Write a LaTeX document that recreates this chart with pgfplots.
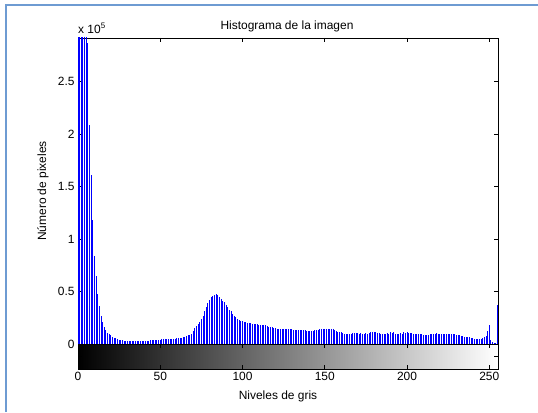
\documentclass[border=0pt]{standalone}
\usepackage{pgfplots}
\pgfplotsset{compat=1.18}
\usepackage{pgfplotstable}
\usepackage{fontspec}
\setmainfont{Liberation Sans}
\definecolor{framec}{RGB}{110,155,210}

\pgfplotstableread{
x y
0 3.2
1 3.4
2 3.3
3 3.2
4 3.1
5 3.0
6 2.87
7 2.09
8 1.61
9 1.18
10 0.84
11 0.65
12 0.48
13 0.36
14 0.27
15 0.21
16 0.165
17 0.13
18 0.108
19 0.095
20 0.085
21 0.07
22 0.06
23 0.054
24 0.046
25 0.042
26 0.039
27 0.034
28 0.032
29 0.029
30 0.026
31 0.025
32 0.024
33 0.025
34 0.024
35 0.025
36 0.024
37 0.025
38 0.026
39 0.025
40 0.026
41 0.027
42 0.028
43 0.030
44 0.034
45 0.035
46 0.036
47 0.035
48 0.036
49 0.037
50 0.038
51 0.046
52 0.048
53 0.049
54 0.050
55 0.050
56 0.051
57 0.051
58 0.052
59 0.052
60 0.053
61 0.054
62 0.055
63 0.058
64 0.064
65 0.068
66 0.072
67 0.082
68 0.088
69 0.098
70 0.12
71 0.15
72 0.17
73 0.19
74 0.21
75 0.235
76 0.27
77 0.31
78 0.355
79 0.39
80 0.42
81 0.45
82 0.46
83 0.467
84 0.473
85 0.465
86 0.45
87 0.425
88 0.41
89 0.40
90 0.37
91 0.355
92 0.32
93 0.31
94 0.285
95 0.27
96 0.255
97 0.24
98 0.23
99 0.22
100 0.215
101 0.21
102 0.205
103 0.2
104 0.2
105 0.197
106 0.195
107 0.19
108 0.19
109 0.188
110 0.18
111 0.178
112 0.178
113 0.177
114 0.178
115 0.176
116 0.165
117 0.16
118 0.158
119 0.157
120 0.148
121 0.147
122 0.146
123 0.146
124 0.145
125 0.146
126 0.147
127 0.146
128 0.145
129 0.146
130 0.145
131 0.132
132 0.131
133 0.13
134 0.13
135 0.129
136 0.13
137 0.131
138 0.13
139 0.128
140 0.124
141 0.123
142 0.124
143 0.125
144 0.13
145 0.131
146 0.133
147 0.14
148 0.141
149 0.142
150 0.141
151 0.142
152 0.142
153 0.141
154 0.142
155 0.14
156 0.138
157 0.124
158 0.116
159 0.114
160 0.112
161 0.102
162 0.1
163 0.099
164 0.1
165 0.098
166 0.1
167 0.107
168 0.106
169 0.107
170 0.105
171 0.1
172 0.101
173 0.099
174 0.1
175 0.102
176 0.1
177 0.101
178 0.114
179 0.11
180 0.117
181 0.11
182 0.105
183 0.101
184 0.1
185 0.1
186 0.099
187 0.1
188 0.101
189 0.1
190 0.11
191 0.109
192 0.11
193 0.1
194 0.099
195 0.1
196 0.101
197 0.1
198 0.11
199 0.108
200 0.11
201 0.109
202 0.108
203 0.107
204 0.1
205 0.095
206 0.094
207 0.095
208 0.096
209 0.094
210 0.089
211 0.088
212 0.089
213 0.09
214 0.1
215 0.1
216 0.099
217 0.1
218 0.101
219 0.1
220 0.099
221 0.1
222 0.095
223 0.096
224 0.095
225 0.094
226 0.095
227 0.094
228 0.093
229 0.092
230 0.083
231 0.082
232 0.082
233 0.08
234 0.072
235 0.07
236 0.07
237 0.068
238 0.062
239 0.06
240 0.06
241 0.05
242 0.048
243 0.048
244 0.047
245 0.048
246 0.056
247 0.065
248 0.078
249 0.127
250 0.18
251 0.04
252 0.02
253 0.012
254 0.012
255 0.37
}\histdata

\begin{document}
\begin{tikzpicture}[x=1bp,y=1bp,font=\fontsize{12}{14}\selectfont]
\useasboundingbox (0,0) rectangle (538,412);
\fill[white] (0,0) rectangle (538,412);
\draw[framec, line width=2bp] (5.5,0) -- (5.5,406.5) -- (538,406.5);

% colorbar axis
\begin{axis}[
  at={(78bp,43bp)}, anchor=south west,
  scale only axis, width=420bp, height=25bp,
  xmin=0, xmax=255.3, ymin=0, ymax=1,
  xtick={0,50,100,150,200,250},
  xticklabels={0,50,100,150,200,250},
  ytick={0.5}, yticklabels={},
  tick align=inside, major tick length=4bp,
  axis on top,
  axis line style={line width=0.8bp},
  every tick/.style={black, line width=0.6bp},
  tick label style={font=\fontsize{12}{14}\selectfont},
]
\addplot[draw=none, forget plot] coordinates {(0,0) (255,1)};
\fill[left color=black, right color=white] (axis cs:0,0) rectangle (axis cs:255.3,1);
\end{axis}

% histogram axis
\begin{axis}[
  at={(78bp,68bp)}, anchor=south west,
  scale only axis, width=420bp, height=306bp,
  xmin=0, xmax=255.3, ymin=0, ymax=2.914,
  xtick={0,50,100,150,200,250}, xticklabels={},
  ytick={0,0.5,1,1.5,2,2.5},
  yticklabels={0,0.5,1,1.5,2,2.5},
  tick align=inside, major tick length=4bp,
  axis line style={line width=0.8bp},
  every tick/.style={black, line width=0.6bp},
  tick label style={font=\fontsize{12}{14}\selectfont},
]
\addplot[ycomb, blue, line width=1bp] table[x=x, y=y] {\histdata};
\end{axis}

\node[anchor=base] at (287,383) {Histograma de la imagen};
\node[anchor=base west, inner sep=0pt] at (78,379) {x 10\raisebox{5bp}{\fontsize{8}{9}\selectfont 5}};
\node[rotate=90] at (43,221) {Número de pixeles};
\node[anchor=base] at (278,13) {Niveles de gris};
\end{tikzpicture}
\end{document}
